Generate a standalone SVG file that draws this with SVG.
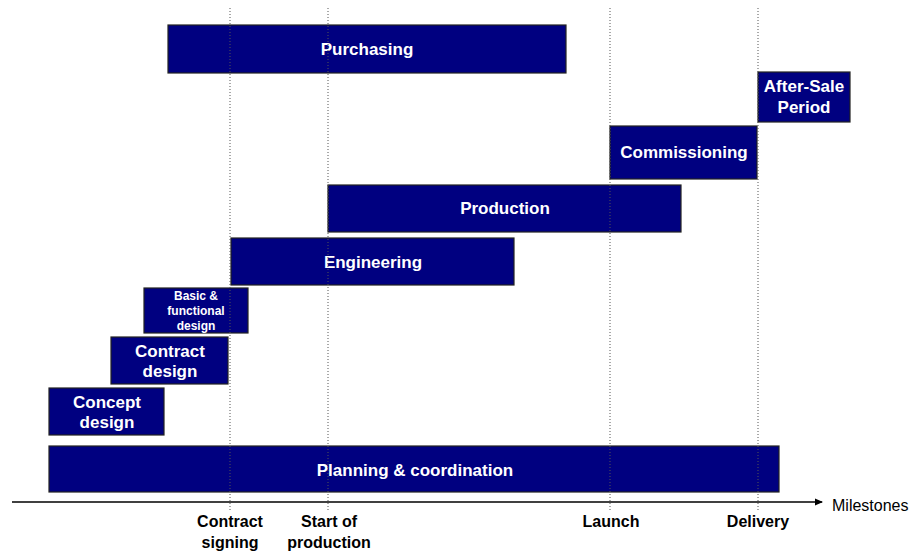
<svg xmlns="http://www.w3.org/2000/svg" width="914" height="553" viewBox="0 0 914 553">
<defs>
<style>
.box{fill:#000080;stroke:#222;stroke-width:1.2}
.bt{fill:#fff;font-family:"Liberation Sans",Arial,sans-serif;font-weight:bold;font-size:17px;text-anchor:middle}
.sm{font-size:12px}
.ms{fill:#000;font-family:"Liberation Sans",Arial,sans-serif;font-weight:bold;font-size:16px;text-anchor:middle}
.guide{stroke:#555;stroke-width:1;stroke-dasharray:1,2;fill:none}
</style>
<marker id="ah" markerWidth="8" markerHeight="8" refX="7" refY="4" orient="auto" markerUnits="userSpaceOnUse">
<path d="M0,0.5 L8,4 L0,7.5 Z" fill="#000"/>
</marker>
</defs>
<rect width="914" height="553" fill="#fff"/>
<g id="purchasing"><rect class="box" x="168" y="25" width="398" height="48"/><text class="bt" x="367" y="55">Purchasing</text></g>
<g id="after-sale"><rect class="box" x="758" y="72" width="92" height="50"/><text class="bt" x="804" y="92">After-Sale</text><text class="bt" x="804" y="113">Period</text></g>
<g id="commissioning"><rect class="box" x="610" y="126" width="147" height="53"/><text class="bt" x="684" y="158">Commissioning</text></g>
<g id="production"><rect class="box" x="328" y="185" width="353" height="47"/><text class="bt" x="505" y="214">Production</text></g>
<g id="engineering"><rect class="box" x="231" y="238" width="283" height="47"/><text class="bt" x="373" y="268">Engineering</text></g>
<g id="basic"><rect class="box" x="144" y="288" width="104" height="45"/><text class="bt sm" x="196" y="300">Basic &amp;</text><text class="bt sm" x="196" y="315">functional</text><text class="bt sm" x="196" y="330">design</text></g>
<g id="contract"><rect class="box" x="111" y="337" width="117" height="47"/><text class="bt" x="170" y="357">Contract</text><text class="bt" x="170" y="377">design</text></g>
<g id="concept"><rect class="box" x="49" y="388" width="115" height="47"/><text class="bt" x="107" y="408">Concept</text><text class="bt" x="107" y="428">design</text></g>
<g id="planning"><rect class="box" x="49" y="446" width="730" height="46"/><text class="bt" x="415" y="476">Planning &amp; coordination</text></g>
<g id="connectors">
<line class="guide" x1="230" y1="8" x2="230" y2="512"/>
<line class="guide" x1="328" y1="8" x2="328" y2="512"/>
<line class="guide" x1="610" y1="8" x2="610" y2="512"/>
<line class="guide" x1="758" y1="8" x2="758" y2="512"/>
<line x1="12" y1="502" x2="822" y2="502" stroke="#000" stroke-width="1.3" marker-end="url(#ah)"/>
</g>
<g id="labels">
<text x="832" y="511" font-family="'Liberation Sans',Arial,sans-serif" font-size="16" fill="#000">Milestones</text>
<text class="ms" x="230" y="527">Contract</text><text class="ms" x="230" y="548">signing</text>
<text class="ms" x="329" y="527">Start of</text><text class="ms" x="329" y="548">production</text>
<text class="ms" x="611" y="527">Launch</text>
<text class="ms" x="758" y="527">Delivery</text>
</g>
</svg>
